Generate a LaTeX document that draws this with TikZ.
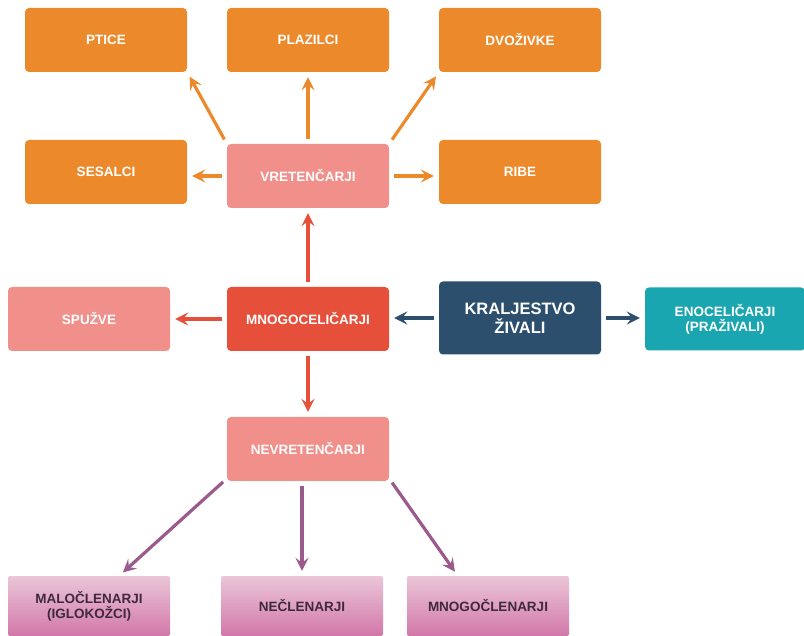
\documentclass[tikz,border=0pt]{standalone}
\usepackage{fontspec}
\setmainfont{Liberation Sans}
\usetikzlibrary{arrows.meta}

\definecolor{orangebox}{HTML}{EC8A2B}
\definecolor{salmonbox}{HTML}{F1908A}
\definecolor{redbox}{HTML}{E6503B}
\definecolor{navybox}{HTML}{2D4F6E}
\definecolor{tealbox}{HTML}{1AA6B1}
\definecolor{pinktop}{HTML}{EBC6D9}
\definecolor{pinkbot}{HTML}{D277A8}
\definecolor{purplearrow}{HTML}{9A5A8C}
\definecolor{darktext}{HTML}{3E2A3C}

\begin{document}
\begin{tikzpicture}[
        x=1pt, y=-1pt,
        box/.style={rectangle, rounded corners=4pt, minimum width=162pt, minimum height=64pt,
            align=center, text=white, font=\bfseries\fontsize{13.5}{15}\selectfont},
        orangeblock/.style={box, fill=orangebox},
        salmonblock/.style={box, fill=salmonbox},
        leafblock/.style={box, minimum height=60pt, rounded corners=2pt, top color=pinktop,
            bottom color=pinkbot, text=darktext},
        arrow/.style={-{Stealth[length=13pt, width=13pt, inset=5pt]}, line width=3.2pt,
            shorten <=5pt, shorten >=5pt}
    ]
    \useasboundingbox (0,0) rectangle (804,636);

    % Vretencarji in njihove skupine
    \node[orangeblock] (ptice) at (106,40) {PTICE};
    \node[orangeblock] (plazilci) at (308,40) {PLAZILCI};
    \node[orangeblock] (dvozivke) at (520,40) {DVOŽIVKE};
    \node[orangeblock] (sesalci) at (106,172) {SESALCI};
    \node[salmonblock] (vret) at (308,176) {VRETENČARJI};
    \node[orangeblock] (ribe) at (520,172) {RIBE};

    % Srednja vrsta
    \node[salmonblock] (spuzve) at (89,319) {SPUŽVE};
    \node[box, fill=redbox] (mnogo) at (308,319) {MNOGOCELIČARJI};
    \node[box, fill=navybox, minimum height=73pt, font=\bfseries\fontsize{16.5}{19}\selectfont]
        (kralj) at (520,318) {KRALJESTVO\\ŽIVALI};
    \node[box, fill=tealbox, minimum width=160pt, minimum height=63pt] (eno) at (725,319)
        {ENOCELIČARJI\\(PRAŽIVALI)};

    % Nevretencarji
    \node[salmonblock] (nevret) at (308,449) {NEVRETENČARJI};
    \node[leafblock] (malo) at (89,606) {MALOČLENARJI\\(IGLOKOŽCI)};
    \node[leafblock] (necl) at (302,606) {NEČLENARJI};
    \node[leafblock] (mnogocl) at (488,606) {MNOGOČLENARJI};

    % Puscice od vretencarjev
    \draw[arrow, orangebox] (vret.north west) -- (ptice.south east);
    \draw[arrow, orangebox] (vret.north) -- (vret.north |- plazilci.south);
    \draw[arrow, orangebox] (vret.north east) -- (dvozivke.south west);
    \draw[arrow, orangebox] (vret.west) -- (vret.west -| sesalci.east);
    \draw[arrow, orangebox] (vret.east) -- (vret.east -| ribe.west);

    % Puscice od mnogocelicarjev
    \draw[arrow, redbox] (mnogo.north) -- (vret.south);
    \draw[arrow, redbox] (mnogo.west) -- (mnogo.west -| spuzve.east);
    \draw[arrow, redbox] (mnogo.south) -- (nevret.north);

    % Puscice od kraljestva
    \draw[arrow, navybox] (kralj.west) -- (kralj.west -| mnogo.east);
    \draw[arrow, navybox] (kralj.east) -- (kralj.east -| eno.west);

    % Puscice od nevretencarjev
    \draw[arrow, purplearrow] (nevret.200) -- (malo.45);
    \draw[arrow, purplearrow] (nevret.south -| necl.north) -- (necl.north);
    \draw[arrow, purplearrow] (nevret.-20) -- (mnogocl.135);

\end{tikzpicture}
\end{document}
